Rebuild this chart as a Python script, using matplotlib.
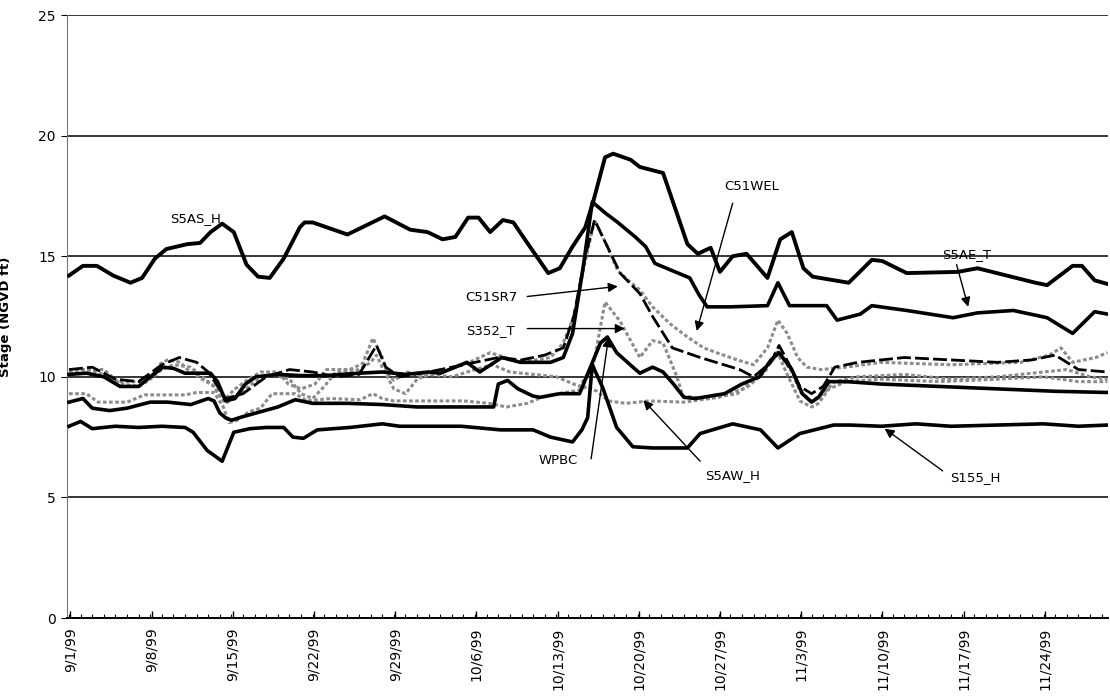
import matplotlib
matplotlib.use("Agg")
import matplotlib.pyplot as plt
import matplotlib.dates as mdates
from matplotlib.ticker import FuncFormatter, MultipleLocator
from datetime import datetime, timedelta

START = datetime(1999, 9, 1)

# Stage records, fall 1999 (day offsets from 9/1/99, stage in ft NGVD)
s5as_h_day = [0, 1.2, 2.4, 3.8, 5.3, 6.3, 7.4, 8.4, 10.2, 11.3, 12.2, 13.2, 14.2, 15.3, 16.3, 17.3,
              18.5, 19.9, 20.3, 21, 24, 27.2, 29.4, 30.9, 32.2, 33.3, 34.4, 35.3, 36.3, 37.4, 38.3,
              39.5, 41.3, 42.3, 43.4, 44.5, 45.2, 46.2, 46.9, 48.4, 49.2, 51.2, 53.3, 54.2, 55.3,
              56.1, 57.2, 58.4, 60.2, 61.3, 62.3, 63.3, 64.1, 67.2, 69.2, 70.1, 72.2, 76.6, 78.3,
              83.3, 84.3, 86.5, 87.3, 88.4, 89.5]
s5as_h_val = [14.2, 14.6, 14.6, 14.2, 13.9, 14.1, 14.9, 15.3, 15.5, 15.55, 16.0, 16.35, 16.0, 14.65,
              14.15, 14.1, 14.9, 16.2, 16.4, 16.4, 15.9, 16.65, 16.1, 16.0, 15.7, 15.8, 16.6, 16.6,
              16.0, 16.5, 16.4, 15.55, 14.3, 14.5, 15.4, 16.2, 17.3, 19.1, 19.25, 19.0, 18.7, 18.45,
              15.5, 15.1, 15.35, 14.35, 15.0, 15.1, 14.1, 15.7, 16.0, 14.5, 14.15, 13.9, 14.85, 14.8,
              14.3, 14.35, 14.5, 13.9, 13.8, 14.6, 14.6, 14.0, 13.85]

s5ae_t_day = [0, 1.5, 3, 4.4, 6, 7, 8.1, 9, 10, 12.2, 12.8, 13.5, 14.3, 15.2, 16.1, 18, 20, 22, 25,
              27, 29, 31, 32, 34.3, 35.4, 37.3, 38.9, 41.5, 42.6, 43.4, 44.3, 45.1, 46.2, 47.3, 48.8,
              49.7, 50.5, 52, 53.5, 54.3, 55, 57, 60.2, 61.1, 62.1, 65.3, 66.2, 68.2, 69.2, 72.2,
              76.2, 78.3, 81.4, 84.3, 86.5, 88.4, 89.5]
s5ae_t_val = [10.1, 10.15, 10.0, 9.6, 9.6, 10.0, 10.4, 10.35, 10.15, 10.15, 9.8, 9.0, 9.1, 9.7, 10.0,
              10.1, 10.05, 10.05, 10.15, 10.2, 10.1, 10.2, 10.15, 10.6, 10.2, 10.8, 10.6, 10.6, 10.8,
              11.8, 14.5, 17.25, 16.8, 16.4, 15.8, 15.4, 14.7, 14.4, 14.1, 13.4, 12.9, 12.9, 12.95,
              13.9, 12.95, 12.95, 12.35, 12.6, 12.95, 12.75, 12.45, 12.65, 12.75, 12.45, 11.8, 12.7,
              12.6]

c51sr7_day = [0, 2, 4, 6, 8, 9.5, 11, 12, 13.5, 15, 17, 19, 21, 23, 25, 26.5, 27.3, 28.5, 31, 33,
              35, 37, 39, 41, 42.6, 43.5, 44.5, 45.3, 46.2, 47.5, 49.2, 50.3, 52, 54.4, 56.1, 57.8,
              59, 60.5, 61.2, 62.2, 63, 64, 65, 66, 68, 70, 72, 76, 80, 83, 85, 87, 89.5]
c51sr7_val = [10.3, 10.4, 9.9, 9.8, 10.5, 10.8, 10.6, 10.2, 9.1, 9.3, 10.0, 10.3, 10.2, 10.0, 10.1,
              11.3, 10.4, 10.0, 10.2, 10.4, 10.6, 10.8, 10.7, 10.9, 11.2, 12.5, 15.0, 16.5, 15.6,
              14.3, 13.45, 12.5, 11.2, 10.8, 10.55, 10.3, 10.0, 10.6, 11.3, 10.4, 9.6, 9.3, 9.6,
              10.4, 10.6, 10.7, 10.8, 10.7, 10.6, 10.7, 10.9, 10.3, 10.2]

c51wel_day = [0, 3, 4.2, 6.8, 7.9, 8.5, 9.6, 10.2, 11.3, 12.4, 13.3, 14.2, 15.3, 16.5, 18, 18.9, 20,
              21.2, 22.2, 24.2, 25.3, 26.2, 27, 27.4, 28, 29.2, 30.5, 31.7, 32.8, 34.5, 36.3, 37.3,
              38.9, 41.5, 42.6, 43.5, 44.5, 45.3, 46.4, 47.3, 48.2, 49.2, 50.3, 51.8, 53.3, 54.7,
              56.1, 57.6, 59, 60.2, 61.1, 61.9, 62.8, 63.6, 64.8, 67, 70, 76, 82, 84.5, 85.5, 86.5,
              88.5, 89.5]
c51wel_val = [10.3, 10.3, 9.8, 9.8, 10.55, 10.7, 10.6, 10.3, 9.95, 9.65, 9.0, 9.45, 9.85, 10.2, 10.2,
              9.7, 9.5, 9.7, 10.3, 10.3, 10.55, 11.6, 10.8, 10.2, 9.85, 10.2, 10.0, 10.2, 10.3, 10.6,
              11.0, 10.85, 10.6, 10.8, 11.4, 12.5, 14.8, 16.5, 15.4, 14.4, 14.0, 13.6, 12.9, 12.2,
              11.65, 11.2, 10.95, 10.7, 10.5, 11.2, 12.35, 11.8, 10.8, 10.4, 10.3, 10.4, 10.6, 10.5,
              10.6, 10.9, 11.2, 10.6, 10.8, 11.0]

s352_t_day = [0, 1.5, 3, 4.5, 6, 7, 8, 9, 10.5, 11.5, 12.5, 13.5, 14.5, 16, 17.5, 19, 20, 21, 22,
              23, 25, 26, 26.5, 27.2, 28, 29, 30, 31, 33, 35, 36.5, 38, 40, 42, 44, 45.2, 46.2, 47.5,
              49.2, 50.3, 51.2, 52.4, 52.9, 55, 57.6, 59, 60.5, 61.2, 62.3, 63, 64, 65, 66, 68, 72,
              76, 80, 84, 86, 88, 89.5]
s352_t_val = [10.2, 10.3, 10.1, 9.7, 9.6, 9.9, 10.3, 10.5, 10.4, 10.0, 9.6, 8.9, 9.2, 9.8, 10.1, 9.9,
              9.3, 9.1, 9.6, 10.2, 10.3, 10.6, 10.9, 10.2, 9.5, 9.3, 9.9, 10.1, 10.0, 10.3, 10.5,
              10.2, 10.1, 10.0, 9.6, 10.5, 13.1, 12.3, 10.8, 11.5, 11.4, 10.0, 9.2, 9.1, 9.3, 9.9,
              10.6, 11.0, 10.2, 9.4, 9.0, 9.3, 9.8, 10.0, 10.1, 9.9, 10.0, 10.2, 10.3, 10.0, 9.9]

wpbc_day = [0, 1.2, 2, 3.5, 5, 7, 8.5, 10.5, 12, 12.5, 13, 13.5, 14, 15, 16.5, 18, 19.5, 21, 24, 27,
            30, 32, 36.6, 37, 37.8, 38.7, 40, 40.6, 42.3, 44, 44.6, 45.2, 45.8, 46.4, 47.2, 48.6,
            49.2, 50.3, 51.2, 52.1, 53, 54, 56.5, 58, 59.5, 60.5, 61.2, 62.3, 63.2, 64, 64.6, 65.5,
            67, 70, 75, 80, 85, 89.5]
wpbc_val = [8.95, 9.1, 8.7, 8.6, 8.7, 8.95, 8.95, 8.85, 9.1, 9.0, 8.5, 8.3, 8.2, 8.35, 8.55, 8.75,
            9.05, 8.9, 8.9, 8.85, 8.75, 8.75, 8.75, 9.7, 9.85, 9.5, 9.2, 9.15, 9.3, 9.3, 10.0, 10.7,
            11.4, 11.65, 11.0, 10.4, 10.15, 10.4, 10.2, 9.7, 9.15, 9.1, 9.3, 9.7, 10.0, 10.7, 11.0,
            10.3, 9.3, 8.95, 9.15, 9.8, 9.8, 9.7, 9.6, 9.5, 9.4, 9.35]

s5aw_h_day = [0, 1.5, 2.5, 5, 6.5, 10, 11, 12.5, 13.3, 13.8, 14.5, 15.5, 16.5, 17.5, 19.5, 20.5, 22.5,
              25.1, 26.2, 27, 28, 29.2, 32.8, 34, 36.2, 37.7, 39.5, 41, 44, 44.6, 45.5, 46.5, 48, 50,
              53, 56, 58.4, 60, 61, 61.8, 63, 64, 64.6, 65.5, 67, 70, 75, 80, 84, 87, 89.5]
s5aw_h_val = [9.3, 9.3, 8.95, 8.95, 9.25, 9.25, 9.35, 9.35, 8.75, 8.1, 8.2, 8.55, 8.7, 9.3, 9.3, 9.0,
              9.1, 9.05, 9.3, 9.1, 9.0, 9.0, 9.0, 9.0, 8.9, 8.75, 8.9, 9.2, 9.45, 9.6, 9.4, 9.0, 8.9,
              9.0, 8.95, 9.15, 9.55, 10.2, 11.1, 10.2, 9.0, 8.75, 8.9, 9.5, 9.8, 9.9, 9.8, 9.9, 10.0,
              9.8, 9.8]

s155_h_day = [0, 1, 2, 4, 6, 8, 10, 10.7, 11.9, 13.2, 14.2, 15.6, 17, 18.5, 19.3, 20.2, 21.4, 24.2,
              27, 28.5, 31, 33.8, 37.2, 40, 41.5, 43.4, 44.2, 44.7, 45.1, 46, 47.2, 48.6, 50.3, 53.3,
              54.4, 57.2, 59.6, 61.1, 63, 65.9, 67.3, 70, 73, 76, 80, 84, 87, 89.5]
s155_h_val = [7.95, 8.15, 7.85, 7.95, 7.9, 7.95, 7.9, 7.7, 6.95, 6.5, 7.7, 7.85, 7.9, 7.9, 7.5, 7.45,
              7.8, 7.9, 8.05, 7.95, 7.95, 7.95, 7.8, 7.8, 7.5, 7.3, 7.8, 8.3, 10.5, 9.55, 7.9, 7.1,
              7.05, 7.05, 7.65, 8.05, 7.8, 7.05, 7.65, 8.0, 8.0, 7.95, 8.05, 7.95, 8.0, 8.05, 7.95,
              8.0]


def dates(days):
    return [START + timedelta(days=d) for d in days]


def at(day):
    return mdates.date2num(START + timedelta(days=day))


plt.rcParams["font.family"] = ["DejaVu Sans"]

fig = plt.figure(figsize=(11.10, 6.98), dpi=100)
ax = fig.add_axes([0.0604, 0.1146, 0.9378, 0.8639])

gray = "#8c8c8c"
dot = (0, (1.2, 0.8))
# gray stippled records underneath
ax.plot(dates(s5aw_h_day), s5aw_h_val, color=gray, lw=2.2, ls=dot, zorder=3)
ax.plot(dates(s352_t_day), s352_t_val, color=gray, lw=2.2, ls=dot, zorder=3)
ax.plot(dates(c51wel_day), c51wel_val, color=gray, lw=2.2, ls=dot, zorder=3)
# black records
ax.plot(dates(c51sr7_day), c51sr7_val, color="black", lw=2.0, ls=(0, (5, 1.5)), zorder=4)
ax.plot(dates(wpbc_day), wpbc_val, color="black", lw=2.6, zorder=4)
ax.plot(dates(s155_h_day), s155_h_val, color="black", lw=2.6, zorder=4)
ax.plot(dates(s5ae_t_day), s5ae_t_val, color="black", lw=2.6, zorder=4)
ax.plot(dates(s5as_h_day), s5as_h_val, color="black", lw=2.8, zorder=5)

ax.set_ylim(0, 25)
ax.set_xlim(at(-0.17), at(89.55))
ax.yaxis.set_major_locator(MultipleLocator(5))
for yv in (5, 10, 15, 20, 25):
    ax.axhline(yv, color="black", lw=1.1, zorder=1)

ax.xaxis.set_major_locator(mdates.RRuleLocator(
    mdates.rrulewrapper(mdates.DAILY, interval=7, dtstart=START)))
ax.xaxis.set_minor_locator(mdates.DayLocator())
ax.xaxis.set_major_formatter(FuncFormatter(
    lambda v, p: "{d.month}/{d.day}/{y}".format(d=mdates.num2date(v), y=mdates.num2date(v).strftime("%y"))))

ax.tick_params(axis="x", which="major", direction="in", length=5, width=1, labelrotation=90,
               labelsize=10, pad=7)
ax.tick_params(axis="x", which="minor", direction="in", length=3, width=0.8)
ax.tick_params(axis="y", which="major", direction="out", length=4, width=0.8, labelsize=10, pad=4)

for side in ("top", "right"):
    ax.spines[side].set_visible(False)
ax.spines["left"].set_color("#777777")
ax.spines["left"].set_linewidth(0.8)
ax.spines["bottom"].set_linewidth(1.4)

ax.set_ylabel("Stage (NGVD ft)", fontsize=9.5, fontweight="bold")
ax.yaxis.set_label_coords(-0.053, 0.5)

# series labels
lab = dict(fontsize=9.5, ha="center", va="center", zorder=6)
arrow = dict(arrowstyle="-|>", color="black", lw=1.0, mutation_scale=14, shrinkA=0, shrinkB=0)

ax.text(at(10.95), 16.55, "S5AS_H", **lab)
ax.text(at(58.8), 17.9, "C51WEL", **lab)
ax.annotate("", xy=(at(54.1), 11.9), xytext=(at(57.2), 17.2), arrowprops=arrow, zorder=6)
ax.text(at(77.4), 15.07, "S5AE_T", **lab)
ax.annotate("", xy=(at(77.5), 12.9), xytext=(at(76.5), 14.65), arrowprops=arrow, zorder=6)
ax.text(at(36.4), 13.3, "C51SR7", **lab)
ax.annotate("", xy=(at(47.3), 13.75), xytext=(at(39.5), 13.33), arrowprops=arrow, zorder=6)
ax.text(at(36.3), 11.93, "S352_T", **lab)
ax.annotate("", xy=(at(47.9), 12.0), xytext=(at(39.5), 12.0), arrowprops=arrow, zorder=6)
ax.text(at(42.2), 6.54, "WPBC", **lab)
ax.annotate("", xy=(at(46.5), 11.64), xytext=(at(45.0), 6.6), arrowprops=arrow, zorder=6)
ax.text(at(57.2), 5.92, "S5AW_H", **lab)
ax.annotate("", xy=(at(49.5), 9.03), xytext=(at(54.4), 6.5), arrowprops=arrow, zorder=6)
ax.text(at(78.1), 5.84, "S155_H", **lab)
ax.annotate("", xy=(at(70.3), 7.85), xytext=(at(75.3), 6.1), arrowprops=arrow, zorder=6)

fig.savefig("out.png", dpi=100)
